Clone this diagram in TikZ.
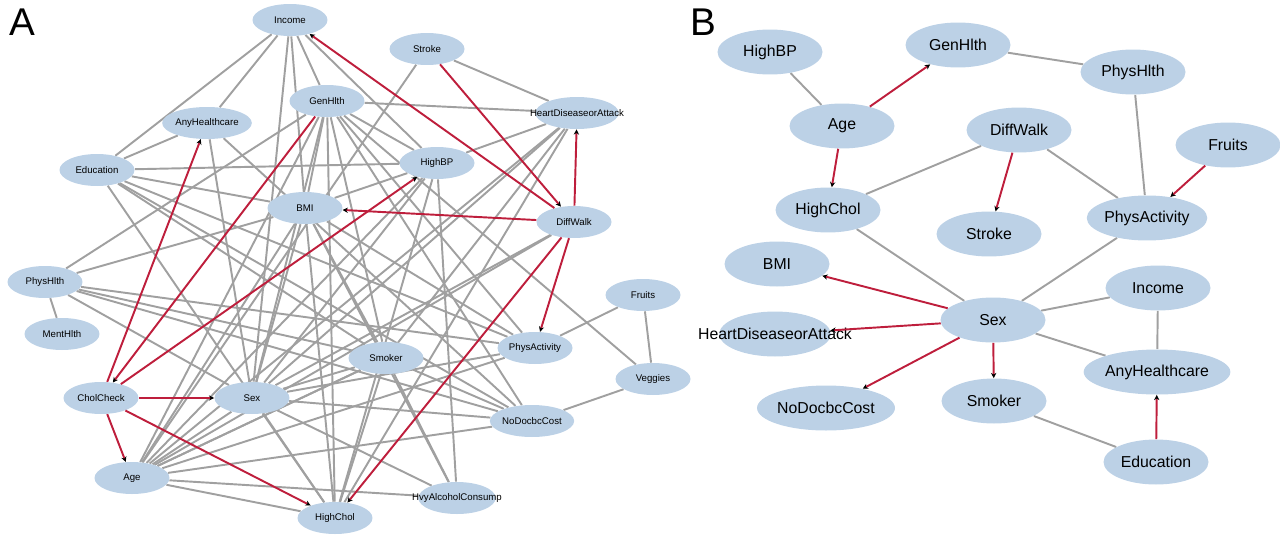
\documentclass[tikz,border=0pt]{standalone}
\usepackage{fontspec}
\setmainfont{Liberation Sans}
\usetikzlibrary{positioning,shapes.geometric,arrows.meta,backgrounds}
\definecolor{nodeblue}{RGB}{188,209,230}
\definecolor{edgegrey}{RGB}{160,160,160}
\definecolor{edgered}{RGB}{190,30,60}
\tikzset{
	va/.style={ellipse,fill=nodeblue,minimum width=1.5cm,minimum height=0.64cm,inner sep=0pt,font=\fontsize{5.5}{6}\selectfont},
	vb/.style={ellipse,fill=nodeblue,minimum width=2.1cm,minimum height=0.9cm,inner sep=0pt,font=\fontsize{9}{10}\selectfont},
	wide/.style={inner xsep=-0.35cm},
	wider/.style={inner xsep=-0.75cm},
	ue/.style={draw=edgegrey,line width=1.1pt},
	de/.style={draw=edgered,line width=1.1pt,-{Stealth[length=3pt,width=3pt,black]}},
}
\begin{document}
\begin{tikzpicture}[x=0.02cm,y=-0.02cm]
		\useasboundingbox (0,0) rectangle (1280,541);
		\node[font=\fontsize{22}{24}\selectfont] (la) at (22,22) {A};
		\node[font=\fontsize{22}{24}\selectfont] (lb) at (703,22) {B};
		
		% panel A
		\node[va] (Income) at (290,20) {Income};
		\node[va] (Stroke) at (427,49) {Stroke};
		\node[va] (GenHlth) at (327,101) {GenHlth};
		\node[va,wide] (HeartDiseaseorAttack) at (577,113) {HeartDiseaseorAttack};
		\node[va] (AnyHealthcare) at (207,123) {AnyHealthcare};
		\node[va] (HighBP) at (437,163) {HighBP};
		\node[va] (Education) at (97,170) {Education};
		\node[va] (BMI) at (305,208) {BMI};
		\node[va] (DiffWalk) at (574,222) {DiffWalk};
		\node[va] (PhysHlth) at (45,282) {PhysHlth};
		\node[va] (Fruits) at (643,295) {Fruits};
		\node[va] (MentHlth) at (62,334) {MentHlth};
		\node[va] (PhysActivity) at (535,348) {PhysActivity};
		\node[va] (Smoker) at (386,358) {Smoker};
		\node[va] (Veggies) at (653,379) {Veggies};
		\node[va] (CholCheck) at (101,398) {CholCheck};
		\node[va] (Sex) at (252,398) {Sex};
		\node[va] (NoDocbcCost) at (532,421) {NoDocbcCost};
		\node[va] (Age) at (132,478) {Age};
		\node[va,wide] (HvyAlcoholConsump) at (457,498) {HvyAlcoholConsump};
		\node[va] (HighChol) at (335,518) {HighChol};
		
		\begin{pgfonlayer}{background}
		\foreach \a/\b in {Income/Education,Income/AnyHealthcare,Income/GenHlth,Income/BMI,Income/HighBP,Income/Sex,
			Stroke/HeartDiseaseorAttack,Stroke/Age,
			GenHlth/HeartDiseaseorAttack,GenHlth/PhysHlth,GenHlth/BMI,GenHlth/Sex,GenHlth/Age,GenHlth/HighChol,GenHlth/Smoker,GenHlth/HighBP,GenHlth/PhysActivity,GenHlth/NoDocbcCost,GenHlth/Veggies,
			HeartDiseaseorAttack/HighBP,HeartDiseaseorAttack/Age,HeartDiseaseorAttack/Sex,HeartDiseaseorAttack/HighChol,HeartDiseaseorAttack/Smoker,
			Education/AnyHealthcare,Education/HighBP,Education/BMI,Education/Smoker,Education/PhysActivity,Education/NoDocbcCost,Education/HighChol,
			AnyHealthcare/NoDocbcCost,AnyHealthcare/Sex,
			HighBP/BMI,HighBP/Age,HighBP/Sex,HighBP/HighChol,HighBP/HvyAlcoholConsump,
			BMI/PhysHlth,BMI/Age,BMI/Sex,BMI/HighChol,BMI/Smoker,BMI/PhysActivity,BMI/HvyAlcoholConsump,
			DiffWalk/Age,DiffWalk/Sex,
			PhysHlth/MentHlth,PhysHlth/Sex,PhysHlth/PhysActivity,PhysHlth/NoDocbcCost,PhysHlth/Smoker,
			Fruits/PhysActivity,Fruits/Veggies,Veggies/NoDocbcCost,
			Smoker/Sex,Smoker/Age,Smoker/HighChol,Smoker/HvyAlcoholConsump,Smoker/NoDocbcCost,
			Sex/PhysActivity,Sex/NoDocbcCost,Sex/HighChol,Sex/HvyAlcoholConsump,Sex/Age,
			Age/PhysActivity,Age/NoDocbcCost,Age/HvyAlcoholConsump,Age/HighChol,Age/Smoker}
			\draw[ue] (\a) -- (\b);
		\end{pgfonlayer}
		\foreach \a/\b in {DiffWalk/Income,Stroke/DiffWalk,DiffWalk/HeartDiseaseorAttack,DiffWalk/BMI,DiffWalk/PhysActivity,DiffWalk/HighChol,
			CholCheck/AnyHealthcare,GenHlth/CholCheck,CholCheck/HighBP,CholCheck/Sex,CholCheck/Age,CholCheck/HighChol}
			\draw[de] (\a) -- (\b);
		
		% panel B
		\node[vb] (bHighBP) at (770,52) {HighBP};
		\node[vb] (bGenHlth) at (958,45) {GenHlth};
		\node[vb] (bPhysHlth) at (1133,72) {PhysHlth};
		\node[vb] (bAge) at (842,126) {Age};
		\node[vb] (bDiffWalk) at (1019,130) {DiffWalk};
		\node[vb] (bFruits) at (1228,145) {Fruits};
		\node[vb] (bHighChol) at (828,210) {HighChol};
		\node[vb] (bStroke) at (989,234) {Stroke};
		\node[vb] (bPhysActivity) at (1147,218) {PhysActivity};
		\node[vb] (bBMI) at (777,264) {BMI};
		\node[vb] (bIncome) at (1158,288) {Income};
		\node[vb] (bSex) at (993,320) {Sex};
		\node[vb,wider] (bHeartDiseaseorAttack) at (775,334) {HeartDiseaseorAttack};
		\node[vb] (bAnyHealthcare) at (1157,372) {AnyHealthcare};
		\node[vb] (bNoDocbcCost) at (826,408) {NoDocbcCost};
		\node[vb] (bSmoker) at (994,401) {Smoker};
		\node[vb] (bEducation) at (1156,462) {Education};
		
		\begin{pgfonlayer}{background}
		\foreach \a/\b in {HighBP/Age,GenHlth/PhysHlth,PhysHlth/PhysActivity,DiffWalk/HighChol,DiffWalk/PhysActivity,
			HighChol/Sex,Sex/PhysActivity,Sex/Income,Sex/AnyHealthcare,Income/AnyHealthcare,Smoker/Education}
			\draw[ue] (b\a) -- (b\b);
		\end{pgfonlayer}
		\foreach \a/\b in {Age/GenHlth,Age/HighChol,DiffWalk/Stroke,Fruits/PhysActivity,Sex/BMI,Sex/HeartDiseaseorAttack,
			Sex/NoDocbcCost,Sex/Smoker,Education/AnyHealthcare}
			\draw[de] (b\a) -- (b\b);
	\end{tikzpicture}
\end{document}
